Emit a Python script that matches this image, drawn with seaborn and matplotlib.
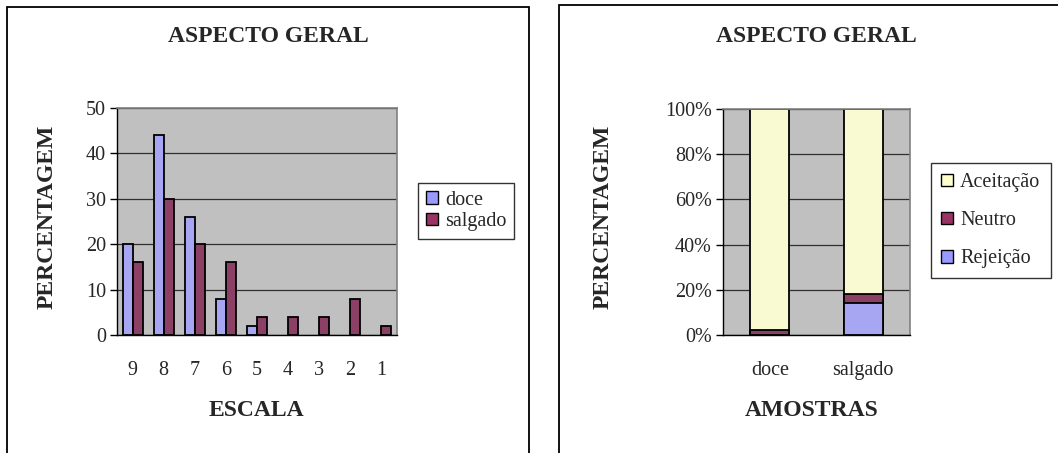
import matplotlib
matplotlib.use("Agg")
import matplotlib.pyplot as plt
from matplotlib.patches import Rectangle, Patch
import numpy as np
import pandas as pd
import seaborn as sns

# ---- data ----
escala = ["9", "8", "7", "6", "5", "4", "3", "2", "1"]
doce = [20, 44, 26, 8, 2, 0, 0, 0, 0]
salgado = [16, 30, 20, 16, 4, 4, 4, 8, 2]

amostras = ["doce", "salgado"]
rejeicao = [0, 14]
neutro = [2, 4]
aceitacao = [98, 82]

titulo = "ASPECTO GERAL"
y_label = "PERCENTAGEM"
x_label_esq = "ESCALA"
x_label_dir = "AMOSTRAS"

# ---- style ----
sns.set_style("white")
plt.rcParams["font.family"] = ["Liberation Serif", "DejaVu Serif"]

C_DOCE = "#9999FF"
C_SALG = "#993366"
C_ACEIT = "#FFFFCC"
BG = "#C0C0C0"

TICK_FS = 14.5
LEG_FS = 14.5
BOLD_FS = 17

W, H = 1058, 453
fig = plt.figure(figsize=(W / 100, H / 100), dpi=100)
fig.patch.set_facecolor("white")


def px_axes(x0, y0, x1, y1):
    return fig.add_axes([x0 / W, 1 - y1 / H, (x1 - x0) / W, (y1 - y0) / H])


def fig_text(x, y, s, **kw):
    fig.text(x / W, 1 - y / H, s, **kw)


# panel frames
for (x0, y0, x1) in [(7, 7, 529), (559, 5, 1070)]:
    fig.add_artist(Rectangle((x0 / W, -0.05), (x1 - x0) / W, 1 - y0 / H + 0.05,
                             transform=fig.transFigure, fill=False,
                             edgecolor="black", linewidth=1.3))


def style_axes(ax, n_cat):
    ax.set_facecolor(BG)
    for s in ["top", "right"]:
        ax.spines[s].set_color("#808080")
        ax.spines[s].set_linewidth(1.2)
    for s in ["left", "bottom"]:
        ax.spines[s].set_color("black")
        ax.spines[s].set_linewidth(1.0)
    ax.yaxis.grid(True, color="#303030", linewidth=0.9)
    ax.set_axisbelow(True)
    ax.set_xlim(-0.5, n_cat - 0.5)
    ax.set_xticks(np.arange(-0.5, n_cat, 1.0), minor=True)
    ax.tick_params(axis="x", which="major", length=0, labelsize=TICK_FS, pad=19)
    ax.tick_params(axis="x", which="minor", direction="out", length=5,
                   width=1, color="black")
    ax.tick_params(axis="y", direction="out", length=5, width=1,
                   color="black", labelsize=TICK_FS, pad=3, left=True)
    ax.set_xlabel("")
    ax.set_ylabel("")


def hide_empty_bars(ax):
    # zero-height bars would leave an outline stub on the axis
    for cont in ax.containers:
        for p in cont.patches:
            if p.get_height() == 0:
                p.set_visible(False)


def box_legend(handles, anchor_px, spacing, pad):
    leg = fig.legend(handles=handles, loc="upper left",
                     bbox_to_anchor=(anchor_px[0] / W, 1 - anchor_px[1] / H),
                     frameon=True, fancybox=False, edgecolor="black",
                     fontsize=LEG_FS, handlelength=0.6, handleheight=0.6,
                     handletextpad=0.35, labelspacing=spacing, borderpad=pad,
                     borderaxespad=0)
    leg.get_frame().set_linewidth(1.0)
    return leg


# ---- left chart: grouped bars ----
ax1 = px_axes(117, 108, 397, 335)
df1 = pd.DataFrame({
    "escala": escala * 2,
    "pct": doce + salgado,
    "amostra": ["doce"] * len(escala) + ["salgado"] * len(escala),
})
sns.barplot(data=df1, x="escala", y="pct", hue="amostra", order=escala,
            palette=[C_DOCE, C_SALG], width=0.64, gap=0,
            edgecolor="black", linewidth=1.3, ax=ax1, legend=False)
hide_empty_bars(ax1)
style_axes(ax1, len(escala))
ax1.set_ylim(0, 50)
ax1.set_yticks([0, 10, 20, 30, 40, 50])
handles1 = [Patch(facecolor=C_DOCE, edgecolor="black", label="doce"),
            Patch(facecolor=C_SALG, edgecolor="black", label="salgado")]
box_legend(handles1, (418, 183), 0.12, 0.38)

fig_text(268, 36, titulo, ha="center", va="center", fontsize=BOLD_FS,
         fontweight="bold")
fig_text(256, 410, x_label_esq, ha="center", va="center", fontsize=BOLD_FS,
         fontweight="bold")
fig_text(47, 217, y_label, ha="center", va="center", fontsize=BOLD_FS,
         fontweight="bold", rotation=90)

# ---- right chart: 100% stacked bars ----
ax2 = px_axes(723, 109, 910, 335)
base_rn = [r + n for r, n in zip(rejeicao, neutro)]
total = [b + a for b, a in zip(base_rn, aceitacao)]
layers = [(total, C_ACEIT), (base_rn, C_SALG), (rejeicao, C_DOCE)]
for vals, col in layers:
    sns.barplot(x=amostras, y=vals, order=amostras, color=col, width=0.42,
                edgecolor="black", linewidth=1.3, ax=ax2)
hide_empty_bars(ax2)
style_axes(ax2, len(amostras))
ax2.set_ylim(0, 100)
ax2.set_yticks([0, 20, 40, 60, 80, 100])
ax2.set_yticklabels([f"{v}%" for v in [0, 20, 40, 60, 80, 100]])

handles2 = [Patch(facecolor=C_ACEIT, edgecolor="black", label="Aceitação"),
            Patch(facecolor=C_SALG, edgecolor="black", label="Neutro"),
            Patch(facecolor=C_DOCE, edgecolor="black", label="Rejeição")]
box_legend(handles2, (931, 163), 0.95, 0.5)

fig_text(816, 36, titulo, ha="center", va="center", fontsize=BOLD_FS,
         fontweight="bold")
fig_text(812, 410, x_label_dir, ha="center", va="center", fontsize=BOLD_FS,
         fontweight="bold")
fig_text(603, 217, y_label, ha="center", va="center", fontsize=BOLD_FS,
         fontweight="bold", rotation=90)

fig.savefig("out.png", dpi=100, facecolor="white")
